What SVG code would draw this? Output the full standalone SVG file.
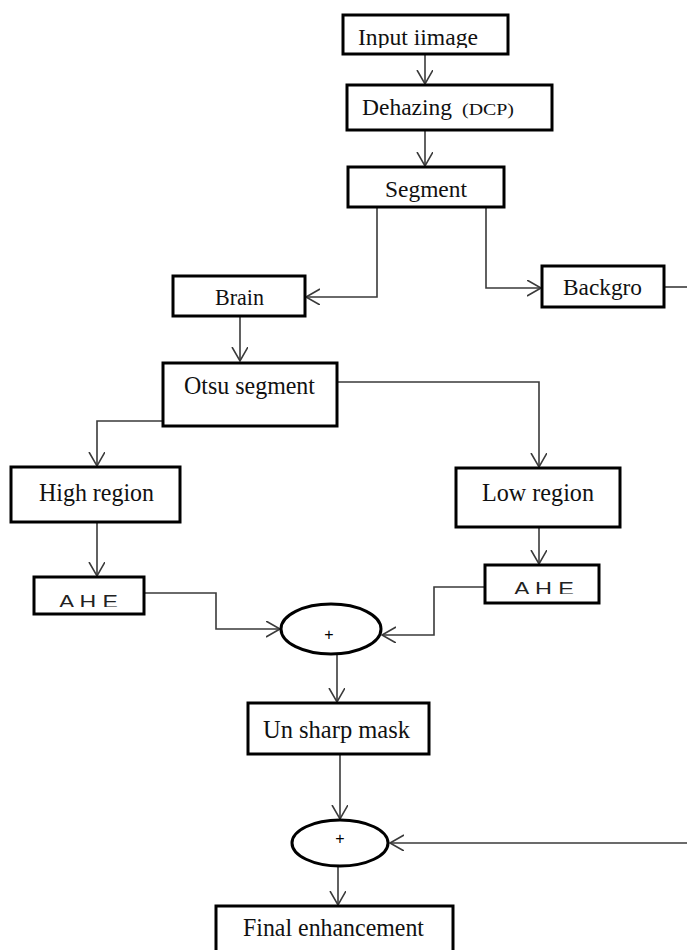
<svg xmlns="http://www.w3.org/2000/svg" width="687" height="950" viewBox="0 0 687 950">
<style>
.box{fill:#fff;stroke:#000;stroke-width:3}
.ell{fill:#fff;stroke:#000;stroke-width:3}
.t{font-family:"Liberation Serif","Times New Roman",serif;font-size:24px;fill:#111}
.s{font-family:"Liberation Sans",Arial,sans-serif;font-size:19px;fill:#222}
.p{font-family:"Liberation Sans",Arial,sans-serif;font-size:16px;fill:#000}
.c{fill:none;stroke:#3a3a3a;stroke-width:1.6}
</style>
<defs>
<marker id="ah" markerUnits="userSpaceOnUse" markerWidth="20" markerHeight="20" refX="14" refY="8" orient="auto">
<path d="M0,0 L14,8 L0,16" fill="none" stroke="#3a3a3a" stroke-width="1.6"/>
</marker>
<clipPath id="cInput"><rect x="343" y="14" width="165" height="34"/></clipPath>
<clipPath id="cAheL"><rect x="34" y="577" width="110" height="30"/></clipPath>
<clipPath id="cAheR"><rect x="485" y="565" width="114" height="29"/></clipPath>
</defs>
<rect width="687" height="950" fill="#fff"/>
<g id="connectors">
<path class="c" d="M425,55 V84" marker-end="url(#ah)"/>
<path class="c" d="M425,130 V166" marker-end="url(#ah)"/>
<path class="c" d="M377,207 V297 H306" marker-end="url(#ah)"/>
<path class="c" d="M486,207 V288 H541" marker-end="url(#ah)"/>
<path class="c" d="M664,287 H687"/>
<path class="c" d="M240,316 V361" marker-end="url(#ah)"/>
<path class="c" d="M337,382 H539 V467" marker-end="url(#ah)"/>
<path class="c" d="M163,421 H97 V466" marker-end="url(#ah)"/>
<path class="c" d="M97,523 V576" marker-end="url(#ah)"/>
<path class="c" d="M539,527 V564" marker-end="url(#ah)"/>
<path class="c" d="M144,593 H216 V629 H280" marker-end="url(#ah)"/>
<path class="c" d="M485,587 H434 V635 H382" marker-end="url(#ah)"/>
<path class="c" d="M337,654 V702" marker-end="url(#ah)"/>
<path class="c" d="M340,754 V819" marker-end="url(#ah)"/>
<path class="c" d="M687,843 H390" marker-end="url(#ah)"/>
<path class="c" d="M338,866 V905" marker-end="url(#ah)"/>
</g>
<g id="input">
<rect class="box" x="343" y="15" width="165" height="39"/>
<text class="t" x="358" y="45" textLength="120" lengthAdjust="spacingAndGlyphs" clip-path="url(#cInput)">Input iimage</text>
</g>
<g id="dehazing">
<rect class="box" x="347" y="85" width="205" height="45"/>
<text class="t" x="362" y="115" textLength="90" lengthAdjust="spacingAndGlyphs">Dehazing</text>
<text class="t" x="462" y="115" style="font-size:16px" textLength="52" lengthAdjust="spacingAndGlyphs">(DCP)</text>
</g>
<g id="segment">
<rect class="box" x="348" y="167" width="156" height="40"/>
<text class="t" x="385" y="197" textLength="82" lengthAdjust="spacingAndGlyphs">Segment</text>
</g>
<g id="brain">
<rect class="box" x="173" y="276" width="132" height="40"/>
<text class="t" x="215" y="305" textLength="49" lengthAdjust="spacingAndGlyphs">Brain</text>
</g>
<g id="background">
<rect class="box" x="542" y="266" width="122" height="41"/>
<text class="t" x="563" y="295" textLength="79" lengthAdjust="spacingAndGlyphs">Backgro</text>
</g>
<g id="otsu">
<rect class="box" x="163" y="363" width="174" height="63"/>
<text class="t" x="184" y="394" style="font-size:25px" textLength="131" lengthAdjust="spacingAndGlyphs">Otsu segment</text>
</g>
<g id="high">
<rect class="box" x="11" y="467" width="169" height="55"/>
<text class="t" x="39" y="501" style="font-size:25px" textLength="115" lengthAdjust="spacingAndGlyphs">High region</text>
</g>
<g id="low">
<rect class="box" x="456" y="468" width="164" height="59"/>
<text class="t" x="482" y="501" style="font-size:25px" textLength="112" lengthAdjust="spacingAndGlyphs">Low region</text>
</g>
<g id="ahe-left">
<rect class="box" x="34" y="577" width="110" height="37"/>
<text class="s" x="59" y="608" textLength="59" lengthAdjust="spacingAndGlyphs" clip-path="url(#cAheL)">A H E</text>
</g>
<g id="ahe-right">
<rect class="box" x="485" y="565" width="114" height="38"/>
<text class="s" x="514" y="595" textLength="60" lengthAdjust="spacingAndGlyphs" clip-path="url(#cAheR)">A H E</text>
</g>
<g id="sum1">
<ellipse class="ell" cx="331" cy="629" rx="50" ry="25"/>
<text class="p" x="329" y="640" text-anchor="middle">+</text>
</g>
<g id="unsharp">
<rect class="box" x="248" y="703" width="181" height="51"/>
<text class="t" x="263" y="738" style="font-size:25px" textLength="147" lengthAdjust="spacingAndGlyphs">Un sharp mask</text>
</g>
<g id="sum2">
<ellipse class="ell" cx="340" cy="843" rx="48" ry="23"/>
<text class="p" x="340" y="844" text-anchor="middle">+</text>
</g>
<g id="final">
<rect class="box" x="216" y="906" width="237" height="60"/>
<text class="t" x="243" y="936" style="font-size:25px" textLength="181" lengthAdjust="spacingAndGlyphs">Final enhancement</text>
</g>
</svg>
